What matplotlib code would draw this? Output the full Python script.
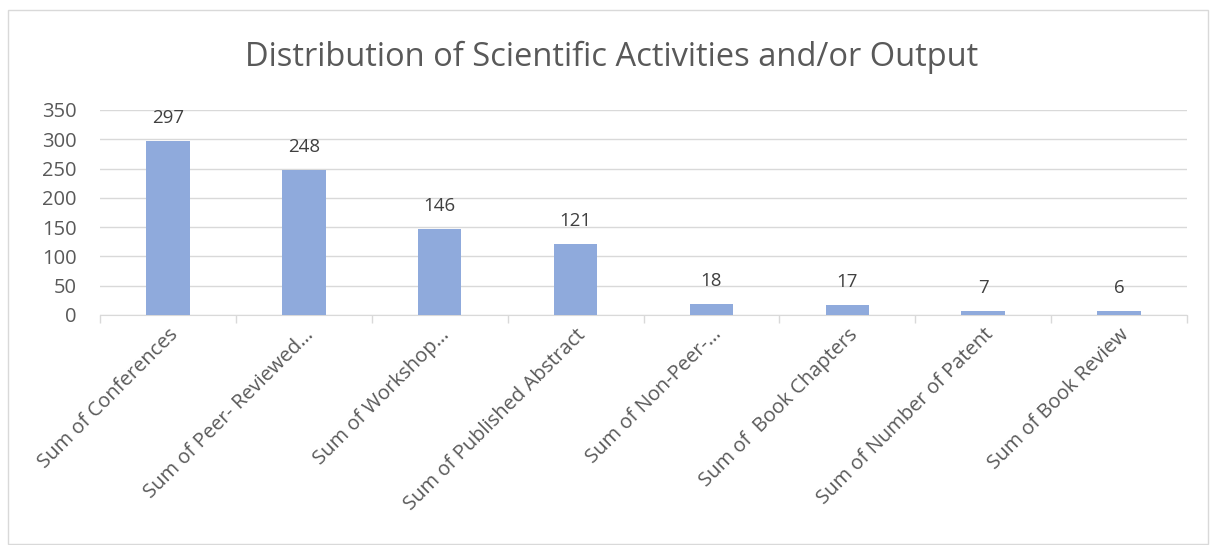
import matplotlib.pyplot as plt
import numpy as np

categories = ["Sum of Conferences", "Sum of Peer- Reviewed…", "Sum of Workshop…",
              "Sum of Published Abstract", "Sum of Non-Peer-…", "Sum of  Book Chapters",
              "Sum of Number of Patent", "Sum of Book Review"]
values = [297, 248, 146, 121, 18, 17, 7, 6]
yticks = [0, 50, 100, 150, 200, 250, 300, 350]

plt.rcParams['font.family'] = ['Open Sans', 'DejaVu Sans']
txt = '#595959'

fig = plt.figure(figsize=(12.12, 5.45), dpi=100)
# chart border
fig.patches.append(plt.Rectangle((8/1212, 0.002), 1200/1212, 1 - 10/545 - 0.002,
                                 transform=fig.transFigure, fill=False,
                                 edgecolor='#D9D9D9', lw=1))
ax = fig.add_axes([100/1212, 1 - 315/545, 1087/1212, 205/545])

x = np.arange(len(categories))
ax.bar(x, values, width=0.32, color='#8FAADC', zorder=3)
for xi, v in zip(x, values):
    ax.annotate(str(v), (xi, v), xytext=(0, 14), textcoords='offset pixels',
                ha='center', va='bottom', fontsize=13.5, color='#404040')

ax.set_xlim(-0.5, len(categories) - 0.5)
ax.set_ylim(0, 350)
ax.set_yticks(yticks)
ax.tick_params(axis='y', length=0, labelsize=14.5, labelcolor=txt, pad=17)
ax.grid(axis='y', color='#D9D9D9', lw=1, zorder=0)

ax.set_xticks(x)
ax.set_xticklabels(categories, rotation=45, ha='right', va='top',
                   rotation_mode='anchor', fontsize=14.5, color=txt)
ax.tick_params(axis='x', length=0, pad=7)
ax.set_xticks(np.arange(len(categories) + 1) - 0.5, minor=True)
ax.tick_params(axis='x', which='minor', length=6, color='#D9D9D9', width=1)

for s in ['top', 'right', 'left']:
    ax.spines[s].set_visible(False)
ax.spines['bottom'].set_color('#D9D9D9')

fig.text(612/1212, 1 - 57/545, "Distribution of Scientific Activities and/or Output",
         ha='center', va='center', fontsize=23.5, color=txt)

fig.savefig('out.png', dpi=100)
